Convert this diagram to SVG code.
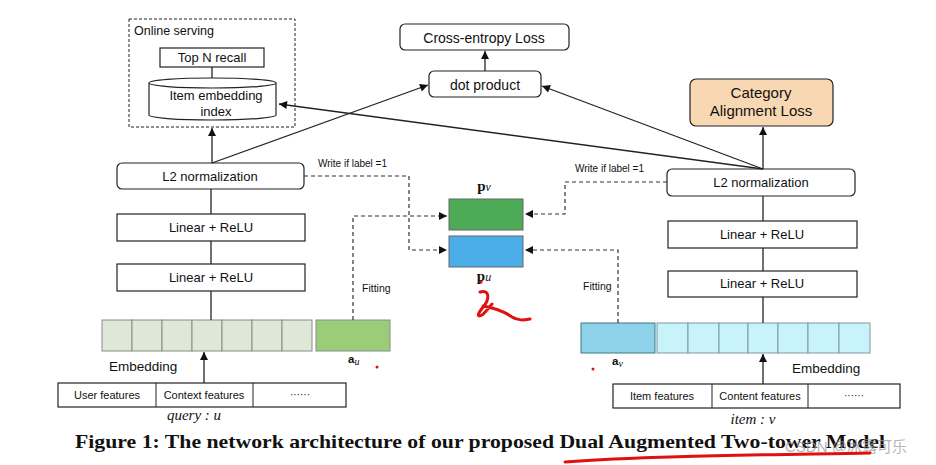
<svg xmlns="http://www.w3.org/2000/svg" width="936" height="465" viewBox="0 0 936 465">
<defs>
<style>
.box{fill:#fff;stroke:#222;stroke-width:1.2}
.t{font-family:"Liberation Sans",Arial,sans-serif;fill:#111}
.ln{stroke:#222;stroke-width:1.3;fill:none}
.dash{stroke:#333;stroke-width:1.2;fill:none;stroke-dasharray:4,3}
.cg{fill:#dde9d6;stroke:#8a8a8a;stroke-width:1}
.cb{fill:#c8f3fb;stroke:#7a9aa0;stroke-width:1}
.serif{font-family:"Liberation Serif","Times New Roman",serif;fill:#111}
</style>
<marker id="arr" viewBox="0 0 10 10" refX="10" refY="5" markerWidth="9" markerHeight="8" markerUnits="userSpaceOnUse" orient="auto"><path d="M0,0 L10,5 L0,10 z" fill="#111"/></marker>
</defs>
<rect width="936" height="465" fill="#fff"/>

<g id="online-serving">
<rect x="129" y="19" width="166" height="108" fill="none" stroke="#222" stroke-width="1" stroke-dasharray="3,2"/>
<text class="t" x="134" y="35" font-size="12.5">Online serving</text>
</g>
<g id="top-n-recall">
<rect class="box" x="160" y="48" width="104" height="19"/>
<text class="t" x="212" y="62" font-size="13" text-anchor="middle">Top N recall</text>
</g>
<g id="item-embedding-index">
<path d="M149,83 v32 a63.5,5 0 0 0 127,0 v-32 a63.5,5 0 0 0 -127,0 a63.5,5 0 0 0 127,0" fill="#fff" stroke="#222" stroke-width="1.2"/>
<text class="t" x="216" y="100" font-size="13" text-anchor="middle">Item embedding</text>
<text class="t" x="216" y="116" font-size="13" text-anchor="middle">index</text>
</g>
<g id="cross-entropy">
<rect class="box" x="400" y="24" width="169" height="26" rx="5"/>
<text class="t" x="484" y="43" font-size="14" text-anchor="middle">Cross-entropy Loss</text>
</g>
<g id="dot-product">
<rect class="box" x="429" y="71" width="112" height="26" rx="5"/>
<text class="t" x="485" y="90" font-size="14" text-anchor="middle">dot product</text>
</g>
<g id="category-loss">
<rect x="690" y="79" width="143" height="47" rx="6" fill="#f8d8b2" stroke="#222" stroke-width="1.2"/>
<text class="t" x="761" y="98" font-size="15" text-anchor="middle">Category</text>
<text class="t" x="761" y="116" font-size="15" text-anchor="middle">Alignment Loss</text>
</g>

<g id="left-l2">
<rect class="box" x="117" y="163" width="187" height="26" rx="5"/>
<text class="t" x="210" y="181" font-size="13" text-anchor="middle">L2 normalization</text>
</g>
<g id="left-linear1">
<rect class="box" x="117" y="214" width="188" height="27"/>
<text class="t" x="211" y="232" font-size="13" text-anchor="middle">Linear + ReLU</text>
</g>
<g id="left-linear2">
<rect class="box" x="117" y="264" width="188" height="27"/>
<text class="t" x="211" y="282" font-size="13" text-anchor="middle">Linear + ReLU</text>
</g>
<g id="left-embedding">
<rect class="cg" x="102" y="320" width="30" height="31"/>
<rect class="cg" x="132" y="320" width="30" height="31"/>
<rect class="cg" x="162" y="320" width="30" height="31"/>
<rect class="cg" x="192" y="320" width="30" height="31"/>
<rect class="cg" x="222" y="320" width="30" height="31"/>
<rect class="cg" x="252" y="320" width="30" height="31"/>
<rect class="cg" x="282" y="320" width="30" height="31"/>
<text class="t" x="109" y="371" font-size="13.5">Embedding</text>
</g>
<g id="a-u">
<rect x="316" y="320" width="74" height="31" fill="#9bcc78" stroke="#8a8a8a" stroke-width="1"/>
<text class="t" x="348" y="363" font-size="11.5" font-weight="bold">a<tspan class="serif" font-style="italic" font-weight="normal" font-size="10" dy="2">u</tspan></text>
</g>
<g id="query-features">
<rect class="box" x="58" y="383" width="288" height="24" stroke-width="1"/>
<line x1="156" y1="383" x2="156" y2="407" stroke="#222"/>
<line x1="253" y1="383" x2="253" y2="407" stroke="#222"/>
<text class="t" x="107" y="399" font-size="11" text-anchor="middle">User features</text>
<text class="t" x="204" y="399" font-size="11" text-anchor="middle">Context features</text>
<text class="t" x="300" y="398" font-size="10" text-anchor="middle">······</text>
<text class="serif" x="194" y="420" font-size="15" font-style="italic" text-anchor="middle">query : u</text>
</g>

<g id="p-v">
<rect x="449" y="199" width="74" height="31" fill="#4dab58" stroke="#666" stroke-width="1"/>
<text class="serif" x="484" y="191" font-size="15" font-weight="bold" text-anchor="middle">p<tspan font-style="italic" font-weight="normal" font-size="12">v</tspan></text>
</g>
<g id="p-u">
<rect x="449" y="236" width="74" height="31" fill="#4baee8" stroke="#666" stroke-width="1"/>
<text class="serif" x="484" y="281" font-size="15" font-weight="bold" text-anchor="middle">p<tspan font-style="italic" font-weight="normal" font-size="12">u</tspan></text>
</g>

<g id="right-l2">
<rect class="box" x="667" y="169" width="188" height="27" rx="5"/>
<text class="t" x="761" y="187" font-size="13" text-anchor="middle">L2 normalization</text>
</g>
<g id="right-linear1">
<rect class="box" x="668" y="221" width="189" height="27"/>
<text class="t" x="762" y="239" font-size="13" text-anchor="middle">Linear + ReLU</text>
</g>
<g id="right-linear2">
<rect class="box" x="668" y="271" width="189" height="26"/>
<text class="t" x="762" y="288" font-size="13" text-anchor="middle">Linear + ReLU</text>
</g>
<g id="a-v">
<rect x="581" y="323" width="74" height="30" fill="#8dd2e9" stroke="#3e7785" stroke-width="1"/>
<text class="t" x="612" y="365" font-size="11.5" font-weight="bold">a<tspan class="serif" font-style="italic" font-weight="normal" font-size="10" dy="2">v</tspan></text>
</g>
<g id="right-embedding">
<rect class="cb" x="657" y="323" width="31" height="30"/>
<rect class="cb" x="688" y="323" width="31" height="30"/>
<rect class="cb" x="719" y="323" width="29" height="30"/>
<rect class="cb" x="748" y="323" width="30" height="30"/>
<rect class="cb" x="778" y="323" width="30" height="30"/>
<rect class="cb" x="808" y="323" width="31" height="30"/>
<rect class="cb" x="839" y="323" width="31" height="30"/>
<text class="t" x="792" y="373" font-size="13.5">Embedding</text>
</g>
<g id="item-features">
<rect class="box" x="613" y="384" width="287" height="24" stroke-width="1"/>
<line x1="712" y1="384" x2="712" y2="408" stroke="#222"/>
<line x1="808" y1="384" x2="808" y2="408" stroke="#222"/>
<text class="t" x="662" y="400" font-size="11" text-anchor="middle">Item features</text>
<text class="t" x="760" y="400" font-size="11" text-anchor="middle">Content features</text>
<text class="t" x="854" y="399" font-size="10" text-anchor="middle">······</text>
<text class="serif" x="753" y="424" font-size="15" font-style="italic" text-anchor="middle">item : v</text>
</g>

<g id="connectors">
<line class="ln" x1="212" y1="163" x2="212" y2="128" marker-end="url(#arr)"/>
<line class="ln" x1="212" y1="163" x2="428" y2="85" marker-end="url(#arr)"/>
<line class="ln" x1="212" y1="67" x2="212" y2="78"/>
<line class="ln" x1="485" y1="71" x2="485" y2="51" marker-end="url(#arr)"/>
<line class="ln" x1="763" y1="169" x2="542" y2="86" marker-end="url(#arr)"/>
<line class="ln" x1="763" y1="169" x2="279" y2="104" marker-end="url(#arr)"/>
<line class="ln" x1="763" y1="169" x2="763" y2="127" marker-end="url(#arr)"/>
<line class="ln" x1="211" y1="189" x2="211" y2="214"/>
<line class="ln" x1="211" y1="241" x2="211" y2="264"/>
<line class="ln" x1="211" y1="291" x2="211" y2="320"/>
<line class="ln" x1="763" y1="196" x2="763" y2="221"/>
<line class="ln" x1="763" y1="248" x2="763" y2="271"/>
<line class="ln" x1="763" y1="297" x2="763" y2="323"/>
<line class="ln" x1="204" y1="383" x2="204" y2="352" marker-end="url(#arr)"/>
<line class="ln" x1="763" y1="384" x2="763" y2="354" marker-end="url(#arr)"/>
<path class="dash" d="M304,176 H409 V250 H447" marker-end="url(#arr)"/>
<path class="dash" d="M353,320 V216 H447" marker-end="url(#arr)"/>
<path class="dash" d="M667,182 H565 V214 H525" marker-end="url(#arr)"/>
<path class="dash" d="M618,323 V250 H525" marker-end="url(#arr)"/>
<text class="t" x="318" y="167" font-size="10">Write if label =1</text>
<text class="t" x="575" y="172" font-size="10">Write if label =1</text>
<text class="t" x="362" y="292" font-size="10.5">Fitting</text>
<text class="t" x="583" y="290" font-size="10.5">Fitting</text>
</g>

<text class="serif" x="75" y="448" font-size="19" font-weight="bold" textLength="810" lengthAdjust="spacingAndGlyphs">Figure 1: The network architecture of our proposed Dual Augmented Two-tower Model</text>
<text x="785" y="452" font-size="15" fill="#9a9a9a" fill-opacity="0.75" font-family="'Liberation Sans','Noto Sans CJK SC',sans-serif">CSDN @冰露可乐</text>

<g id="annotations" fill="none" stroke="#e01010" stroke-linecap="round" stroke-linejoin="round">
<circle cx="377" cy="367" r="1.5" fill="#e01010" stroke="none"/>
<circle cx="593" cy="369" r="1.5" fill="#e01010" stroke="none"/>
<circle cx="481" cy="282" r="1.6" fill="#e01010" stroke="none"/>
<path d="M480,292 C489,289 490,298 484,306 C478,313 476,318 482,315 C486,312 489,307 492,304 M483,306 C495,308 505,312 512,317 C518,321 524,320 530,319" stroke-width="3"/>
<path d="M565,462 C640,456 760,455 870,453" stroke-width="3"/>
</g>
</svg>
